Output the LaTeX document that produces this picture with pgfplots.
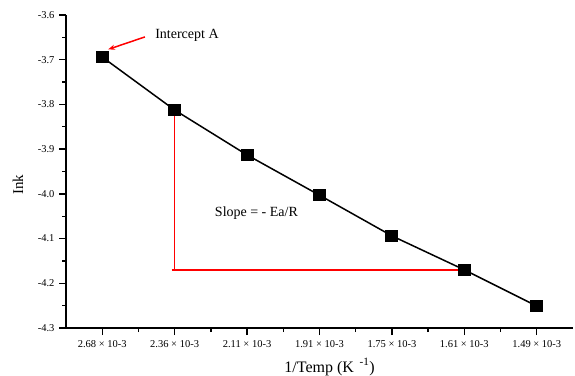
\documentclass[border=0pt]{standalone}
\usepackage{fontspec}
\setmainfont{Liberation Serif}
\usepackage{pgfplots}
\pgfplotsset{compat=1.18}
\usetikzlibrary{arrows.meta}
\begin{document}
\begin{tikzpicture}[x=1pt,y=1pt]
\path[use as bounding box] (0,0) rectangle (575,375);
\begin{axis}[
  at={(66pt,47pt)}, anchor=south west,
  scale only axis, width=507pt, height=313pt,
  axis x line=bottom, axis y line=left,
  axis line style={-, line width=1.4pt},
  xmin=-0.5, xmax=6.5, ymin=-4.3, ymax=-3.6,
  xtick={0,1,2,3,4,5,6},
  xticklabels={2.68 × 10-3, 2.36 × 10-3, 2.11 × 10-3, 1.91 × 10-3, 1.75 × 10-3, 1.61 × 10-3, 1.49 × 10-3},
  minor xtick={0.5,1.5,2.5,3.5,4.5,5.5},
  ytick={-4.3,-4.2,-4.1,-4.0,-3.9,-3.8,-3.7,-3.6},
  yticklabels={-4.3,-4.2,-4.1,-4.0,-3.9,-3.8,-3.7,-3.6},
  minor ytick={-4.25,-4.15,-4.05,-3.95,-3.85,-3.75,-3.65},
  tick align=outside,
  major tick length=7pt, minor tick length=4pt,
  tick style={line width=1.3pt, black},
  xticklabel style={font=\fontsize{10.5}{12}\selectfont, yshift=-2pt},
  yticklabel style={font=\fontsize{10.5}{12}\selectfont, xshift=-1pt},
  every axis y label/.style={at={(axis description cs:-0.095,0.457)}, rotate=90, anchor=center, font=\fontsize{15}{17}\selectfont},
  every axis x label/.style={at={(axis description cs:0.52,-0.125)}, anchor=center, font=\fontsize{16}{18}\selectfont},
  xlabel={1/Temp (K\hspace{0.35em}\textsuperscript{-1})},
  ylabel={Ink},
  clip=false,
]
\addplot[red, line width=1.5pt] coordinates {(1,-3.8125) (1,-4.17)};
\addplot[red, line width=1.5pt] coordinates {(0.96,-4.17) (5,-4.17)};
\addplot[black, line width=1.5pt, mark=square*, mark size=5pt, mark options={solid, fill=black, xscale=1.15}]
  coordinates {(0,-3.694) (1,-3.8125) (2,-3.913) (3,-4.003) (4,-4.094) (5,-4.170) (6,-4.251)};
\draw[red, line width=1.5pt, -{Stealth[length=7pt,width=5pt]}] (axis cs:0.59,-3.649) -- (axis cs:0.08,-3.677);
\node[anchor=west, font=\fontsize{14}{16}\selectfont, inner sep=0pt] at (axis cs:0.73,-3.645) {Intercept A};
\node[anchor=west, font=\fontsize{14}{16}\selectfont, inner sep=0pt] at (axis cs:1.554,-4.043) {Slope = - Ea/R};
\end{axis}
\end{tikzpicture}
\end{document}
